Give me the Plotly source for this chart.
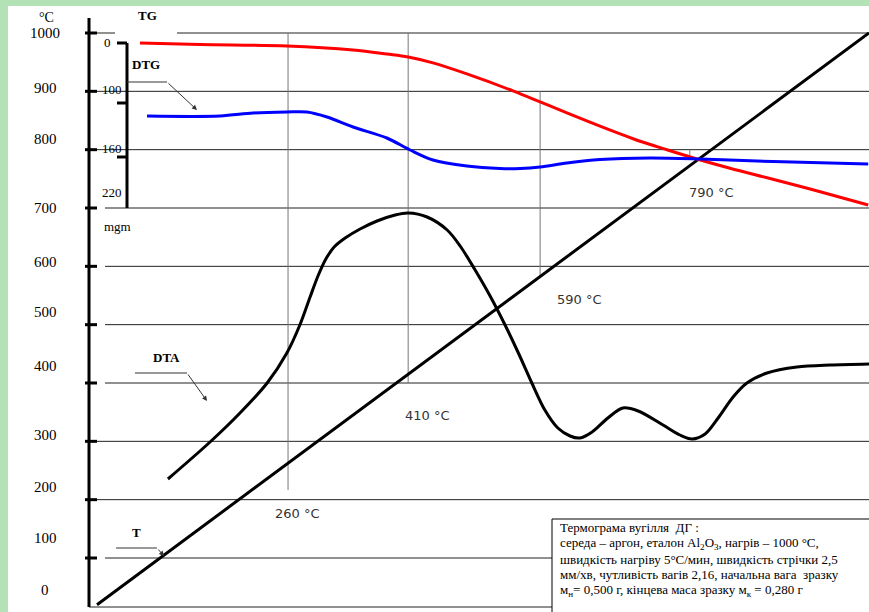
import plotly.graph_objects as go

W, H = 869, 612

# ---------------- data ----------------
# abscissa: time, min ; temperature programme 20 -> 1000 °C
t_T = [0, 196]
T_vals = [20, 1000]

# TG: mass loss, mg
tg_time = [10.9, 26.2, 48.2, 65.0, 73.6, 79.0, 85.3, 93.9, 105.6, 112.5,
           119.3, 127.7, 136.1, 144.7, 152.3, 160.7, 171.6, 183.6, 195.8]
tg_loss_mg = [0, 2, 4, 9.5, 15, 19, 27, 42, 65, 80,
              95, 113, 130, 145, 157.5, 170, 185, 202, 220]

# DTG: relative units
dtg_time = [12.7, 31.2, 39.6, 48.2, 53.3, 58.4, 65.0, 73.6, 79.5, 85.3,
            93.9, 102.3, 107.4, 112.5, 119.3, 127.7, 140.4, 153.1, 171.6, 195.8]
dtg_vals = [0, 0, 0.3, 0.4, 0.4, -0.1, -1.1, -2.2, -3.4, -4.4,
            -5.0, -5.25, -5.25, -5.1, -4.7, -4.35, -4.2, -4.3, -4.55, -4.8]

# DTA: relative units
dta_time = [18.0, 28.7, 36.3, 43.2, 48.2, 51.5, 54.1, 56.1, 58.1, 60.2,
            63.0, 66.8, 71.1, 75.7, 79.0, 83.8, 88.9, 92.2, 96.0, 99.8,
            103.6, 107.1, 110.4, 113.7, 117.0, 120.1, 122.6, 125.7, 129.7, 133.5,
            137.4, 143.7, 148.0, 151.1, 154.4, 157.7, 161.5, 165.0, 170.1, 177.7,
            186.1, 196.0]
dta_vals = [-3.9, -0.2, 2.7, 5.7, 8.7, 11.5, 14.3, 16.4, 18.1, 19.3,
            20.2, 21.1, 21.9, 22.5, 22.7, 22.3, 21.0, 19.4, 17.0, 14.4,
            11.5, 8.6, 5.7, 3.0, 1.2, 0.4, 0.2, 0.8, 2.2, 3.2,
            2.9, 1.5, 0.5, 0.1, 0.6, 2.2, 4.3, 5.7, 6.7, 7.3,
            7.5, 7.6]

# characteristic points
marker_times = [48.5, 79.0, 112.5, 150.5]
marker_labels = ["260 °C", "410 °C", "590 °C", "790 °C"]

# temperature scale
grid_temps = [1000, 900, 800, 700, 600, 500, 400, 300, 200, 100]
temp_tick_labels = ["1000", "900", "800", "700", "600", "500", "400", "300", "200", "100", "0"]
mass_tick_labels = ["0", "100", "160", "220"]

info_lines = [
    "Термограма вугілля  ДГ :",
    "середа – аргон, еталон Al<sub>2</sub>O<sub>3</sub>, нагрів – 1000 °C,",
    "швидкість нагріву 5°C/мин, швидкість стрічки 2,5",
    "мм/хв, чутливість вагів 2,16, начальна вага  зразку",
    "м<sub>н</sub>= 0,500 г, кінцева маса зразку м<sub>к</sub> = 0,280 г",
]

# ---------------- layout helpers ----------------
def xp(p):
    return p / W

def yp(p):
    return 1 - p / H

SERIF = "Liberation Serif"
SANS = "DejaVu Sans"

fig = go.Figure()
fig.add_trace(go.Scatter(x=t_T, y=T_vals, mode="lines", yaxis="y",
                         line=dict(color="#000000", width=3), name="T"))
fig.add_trace(go.Scatter(x=tg_time, y=tg_loss_mg, mode="lines", yaxis="y2",
                         line=dict(color="#ff0000", width=3, shape="spline", smoothing=1.0), name="TG"))
fig.add_trace(go.Scatter(x=dtg_time, y=dtg_vals, mode="lines", yaxis="y3",
                         line=dict(color="#0000ff", width=3, shape="spline", smoothing=0.9), name="DTG"))
fig.add_trace(go.Scatter(x=dta_time, y=dta_vals, mode="lines", yaxis="y4",
                         line=dict(color="#000000", width=3, shape="spline", smoothing=0.9), name="DTA"))

shapes = []

def seg(x0, y0, x1, y1, color="#000000", width=1, xref="paper", yref="paper"):
    shapes.append(dict(type="line", x0=x0, y0=y0, x1=x1, y1=y1, xref=xref, yref=yref,
                       line=dict(color=color, width=width), layer="below"))

# horizontal grid lines (°C)
grid_start_px = [177, 89, 89, 105, 105, 105, 105, 89, 89, 105]
for temp, sx in zip(grid_temps, grid_start_px):
    seg(xp(sx), temp, 1, temp, color="#222222", width=1, yref="y")
seg(xp(89), 1000, xp(115), 1000, color="#222222", width=1, yref="y")
seg(xp(89), 16, 1, 16, color="#222222", width=1, yref="y")

# main temperature axis + ticks
seg(xp(89), yp(18), xp(89), yp(607), width=3)
for temp in grid_temps:
    seg(xp(85), temp, xp(97), temp, width=3, yref="y")

# mass scale (inner axis)
seg(xp(127), yp(43), xp(127), yp(208), width=3)
for py_ in [43, 103, 157]:
    seg(xp(117), yp(py_), xp(127), yp(py_), width=3)

# vertical marker lines
marker_top = [1000, 1000, 900, 800]
marker_bottom = [216.6, 400, 583.4, 782.3]
for tm, top, bot in zip(marker_times, marker_top, marker_bottom):
    seg(tm, top, tm, bot, color="#777777", width=1, xref="x", yref="y")

# arrows' horizontal legs
seg(xp(127), yp(82), xp(167), yp(82), color="#333333", width=1)
seg(xp(135), yp(373), xp(187), yp(373), color="#333333", width=1)
seg(xp(116), yp(548), xp(157), yp(548), color="#333333", width=1)

# info box (white, covers grid)
shapes.append(dict(type="rect", xref="paper", yref="paper", x0=xp(552), x1=1.02,
                   y0=-0.05, y1=yp(519), fillcolor="#ffffff",
                   line=dict(color="#000000", width=1), layer="below"))

# green frame of the page
shapes.append(dict(type="rect", xref="paper", yref="paper", x0=0, x1=xp(8), y0=0, y1=1,
                   fillcolor="#b2e2b5", line=dict(width=0), layer="above"))
shapes.append(dict(type="rect", xref="paper", yref="paper", x0=0, x1=1, y0=yp(6), y1=1,
                   fillcolor="#b2e2b5", line=dict(width=0), layer="above"))

annotations = []

def txt(text, x, y, size=14, family=SERIF, color="#000000", bold=False,
        xanchor="center", xref="paper", yref="paper"):
    if bold:
        text = "<b>" + text + "</b>"
    annotations.append(dict(text=text, x=x, y=y, xref=xref, yref=yref, showarrow=False,
                            xanchor=xanchor, yanchor="middle",
                            font=dict(family=family, size=size, color=color)))

# temperature axis labels
txt("°C", xp(46), yp(17), size=14)
temp_label_px = [33, 88, 139, 208, 262, 312, 366, 435, 487, 538, 590]
for lab, py_ in zip(temp_tick_labels, temp_label_px):
    txt(lab, xp(45), yp(py_), size=15)

# mass axis labels
mass_label_pos = [(107, 43), (112, 89), (112, 148), (112, 192)]
for lab, (px_, py_) in zip(mass_tick_labels, mass_label_pos):
    txt(lab, xp(px_), yp(py_), size=13)
txt("mgm", xp(118), yp(226), size=13)

# curve names
txt("TG", xp(147), yp(15), size=13, bold=True)
txt("DTG", xp(146), yp(65), size=13, bold=True)
txt("DTA", xp(166), yp(357), size=13, bold=True)
txt("T", xp(136), yp(532), size=13, bold=True)

# characteristic temperature labels
label_t = [51.0, 84.0, 122.6, 155.9]
label_T = [177, 345, 544, 727]
for lab, lt, lT in zip(marker_labels, label_t, label_T):
    txt(lab, lt, lT, size=13, family=SANS, color="#333333", xref="x", yref="y")

# info text
info_y_px = [527, 543, 559, 574, 590]
for line, py_ in zip(info_lines, info_y_px):
    txt(line, xp(558), yp(py_), size=13, xanchor="left")

# arrows' slanted legs
def arrow(x_head, y_head, x_tail, y_tail):
    annotations.append(dict(x=xp(x_head), y=yp(y_head), xref="paper", yref="paper",
                            ax=x_tail - x_head, ay=y_tail - y_head, axref="pixel", ayref="pixel",
                            showarrow=True, arrowhead=2, arrowsize=1, arrowwidth=1,
                            arrowcolor="#333333", text=""))

arrow(197, 110, 167, 82)
arrow(207, 401, 187, 373)
arrow(164, 556, 157, 548)

fig.update_layout(
    width=W, height=H, autosize=False,
    margin=dict(l=0, r=0, t=0, b=0),
    paper_bgcolor="#ffffff", plot_bgcolor="#ffffff",
    showlegend=False,
    xaxis=dict(range=[-24.63, 196.0], visible=False, fixedrange=True),
    yaxis=dict(range=[7.43, 1056.57], visible=False, fixedrange=True),
    yaxis2=dict(range=[772.7, -58.4], overlaying="y", visible=False, fixedrange=True),
    yaxis3=dict(range=[-49.6, 11.6], overlaying="y", visible=False, fixedrange=True),
    yaxis4=dict(range=[-17.2, 44], overlaying="y", visible=False, fixedrange=True),
    shapes=shapes,
    annotations=annotations,
)

fig.write_html("out.html", config={"displayModeBar": False},
               post_script="document.body.style.margin='0';document.body.style.overflow='hidden';")
